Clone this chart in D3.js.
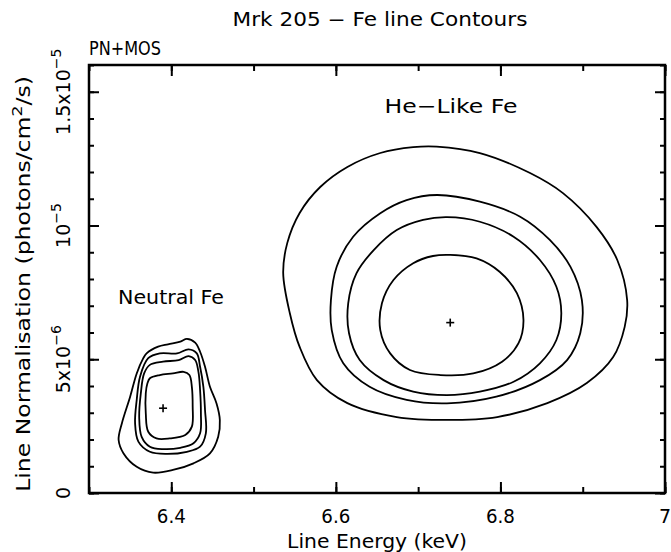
<!DOCTYPE html>
<html><head><meta charset="utf-8">
<script src="https://cdn.jsdelivr.net/npm/d3@7"></script>
<style>body{margin:0;background:#fff}svg{display:block}text{font-family:"DejaVu Sans",sans-serif;fill:#000}</style>
</head><body>
<svg id="c" width="671" height="552"></svg>
<script>
// ---- data (energy keV, normalisation in 1e-6 photons/cm2/s) ----
const xTicksMajor = [6.4, 6.6, 6.8, 7.0];
const xTicksMinor = [6.3,6.4,6.5,6.6,6.7,6.8,6.9,7.0];
const xTickLabels = ["6.4","6.6","6.8","7"];
const yTicksMajor = [0, 5, 10, 15];
const yTicksMinor = d3.range(0, 17, 1);
const yTickLabels = [["0",""],["5x10","−6"],["10","−5"],["1.5x10","−5"]];

const neutralBest = [6.390, 3.17];
const heBest = [6.739, 6.37];

const neutral1 = [[6.374,4.29],[6.386,4.41],[6.402,4.47],[6.415,4.53],[6.422,4.41],[6.425,3.97],[6.426,3.23],[6.425,2.48],[6.417,2.17],[6.398,2.04],[6.382,2.04],[6.372,2.29],[6.369,2.98],[6.369,3.73],[6.371,4.10]];
const neutral2 = [[6.374,4.79],[6.390,4.91],[6.409,4.97],[6.421,5.12],[6.429,4.97],[6.433,4.53],[6.435,3.85],[6.436,2.98],[6.435,2.23],[6.427,1.86],[6.411,1.69],[6.390,1.64],[6.374,1.73],[6.364,2.10],[6.361,2.85],[6.363,3.73],[6.367,4.47]];
const neutral3 = [[6.372,5.04],[6.386,5.22],[6.407,5.22],[6.421,5.37],[6.431,5.22],[6.435,4.72],[6.439,3.97],[6.441,3.10],[6.442,2.23],[6.435,1.73],[6.419,1.54],[6.394,1.46],[6.374,1.54],[6.360,1.92],[6.356,2.61],[6.358,3.48],[6.362,4.35]];
const neutral4 = [[6.370,5.22],[6.384,5.47],[6.396,5.56],[6.411,5.66],[6.419,5.76],[6.429,5.62],[6.435,5.28],[6.441,4.72],[6.447,3.97],[6.455,3.35],[6.459,2.73],[6.457,2.10],[6.447,1.48],[6.427,1.11],[6.402,0.86],[6.378,0.76],[6.358,0.98],[6.342,1.48],[6.336,1.98],[6.340,2.61],[6.350,3.60],[6.358,4.47],[6.366,5.04]];

const he1 = [[6.739,8.90],[6.771,8.77],[6.799,8.27],[6.820,7.47],[6.828,6.47],[6.822,5.60],[6.802,4.91],[6.767,4.47],[6.727,4.41],[6.690,4.60],[6.666,5.22],[6.654,6.09],[6.656,7.09],[6.670,7.96],[6.694,8.59],[6.718,8.86]];
const he2 = [[6.735,10.31],[6.775,10.14],[6.816,9.58],[6.848,8.71],[6.868,7.71],[6.874,6.72],[6.868,5.72],[6.848,4.85],[6.816,4.16],[6.775,3.79],[6.735,3.66],[6.694,3.79],[6.658,4.22],[6.629,4.97],[6.616,5.97],[6.615,7.09],[6.625,8.21],[6.646,9.08],[6.674,9.83],[6.706,10.21]];
const he3 = [[6.723,11.14],[6.775,10.89],[6.824,10.33],[6.860,9.46],[6.885,8.46],[6.899,7.21],[6.897,5.97],[6.881,4.97],[6.848,4.22],[6.795,3.60],[6.735,3.35],[6.686,3.48],[6.641,3.97],[6.609,4.85],[6.595,6.09],[6.594,7.21],[6.601,8.46],[6.621,9.58],[6.654,10.46],[6.686,10.95]];
const he4 = [[6.7225,12.95],[6.775,12.71],[6.836,11.96],[6.876,11.21],[6.917,9.94],[6.942,8.71],[6.954,7.21],[6.951,6.21],[6.937,5.08],[6.905,4.11],[6.857,3.36],[6.796,2.84],[6.735,2.73],[6.674,2.84],[6.614,3.36],[6.577,4.22],[6.556,5.46],[6.544,6.73],[6.536,8.22],[6.541,9.35],[6.556,10.47],[6.581,11.44],[6.614,12.19],[6.654,12.71],[6.694,12.93]];

const contours = [neutral1, neutral2, neutral3, neutral4, he1, he2, he3, he4];

// ---- layout ----
const L = 89, R = 665, T = 65, B = 493;
const x = d3.scaleLinear().domain([6.3, 7.0]).range([L, R]);
const y = d3.scaleLinear().domain([0, 16]).range([B, T]);
const svg = d3.select("#c");

// text stretched horizontally (along its own direction) to reach a target width
function label(px, py, rot, size, anchor, target, build) {
  const g = svg.append("g");
  const t = g.append("text").attr("font-size", size).attr("text-anchor", anchor);
  build(t);
  const w = t.node().getBBox().width;
  const sx = target ? target / w : 1;
  g.attr("transform", `translate(${px},${py}) rotate(${rot}) scale(${sx.toFixed(3)},1)`);
  return g;
}
const plain = s => t => t.text(s);

const line = d3.line().x(d => x(d[0])).y(d => y(d[1])).curve(d3.curveCatmullRomClosed.alpha(0.5));
svg.append("g").selectAll("path").data(contours).join("path")
  .attr("d", line).attr("fill", "none").attr("stroke", "#000").attr("stroke-width", 1.8);

// crosses
[neutralBest, heBest].forEach(p => {
  const g = svg.append("g").attr("stroke", "#000").attr("stroke-width", 1.6);
  g.append("line").attr("x1", x(p[0]) - 4).attr("x2", x(p[0]) + 4).attr("y1", y(p[1])).attr("y2", y(p[1]));
  g.append("line").attr("x1", x(p[0])).attr("x2", x(p[0])).attr("y1", y(p[1]) - 4).attr("y2", y(p[1]) + 4);
});

// axes ticks (all four sides)
function axisG(axis, tr) {
  const g = svg.append("g").attr("transform", tr).call(axis);
  g.select(".domain").remove();
  g.selectAll("text").remove();
  g.selectAll("line").attr("stroke", "#000").attr("stroke-width", 2);
  return g;
}
axisG(d3.axisBottom(x).tickValues(xTicksMinor).tickSize(-6), `translate(0,${B})`);
axisG(d3.axisBottom(x).tickValues(xTicksMajor).tickSize(-11), `translate(0,${B})`);
axisG(d3.axisTop(x).tickValues(xTicksMinor).tickSize(-6), `translate(0,${T})`);
axisG(d3.axisTop(x).tickValues(xTicksMajor).tickSize(-11), `translate(0,${T})`);
axisG(d3.axisLeft(y).tickValues(yTicksMinor).tickSize(-5), `translate(${L},0)`);
axisG(d3.axisLeft(y).tickValues(yTicksMajor).tickSize(-10), `translate(${L},0)`);
axisG(d3.axisRight(y).tickValues(yTicksMinor).tickSize(-5), `translate(${R},0)`);
axisG(d3.axisRight(y).tickValues(yTicksMajor).tickSize(-10), `translate(${R},0)`);

// frame
svg.append("rect").attr("x", L).attr("y", T).attr("width", R - L).attr("height", B - T)
  .attr("fill", "none").attr("stroke", "#000").attr("stroke-width", 2.5);

// x tick labels
xTicksMajor.forEach((v, i) => {
  label(x(v), 523, 0, 19, "middle", xTickLabels[i].length > 1 ? 29 : null, plain(xTickLabels[i]));
});
// y tick labels (rotated, with superscript exponent)
yTicksMajor.forEach((v, i) => {
  label(70, y(v), -90, 19, "middle", null, t => {
    t.append("tspan").text(yTickLabels[i][0]);
    t.append("tspan").attr("dy", -9).attr("font-size", 14).text(yTickLabels[i][1]);
  });
});

// titles and annotations
label(380, 26, 0, 19, "middle", 295, plain("Mrk 205 − Fe line Contours"));
label(89, 55, 0, 19, "start", 72, plain("PN+MOS"));
label(377, 548, 0, 19, "middle", 180, plain("Line Energy (keV)"));
label(30, 284, -90, 19, "middle", 416, t => {
  t.append("tspan").text("Line Normalisation (photons/cm");
  t.append("tspan").attr("dy", -8).attr("font-size", 14).text("2");
  t.append("tspan").attr("dy", 8).text("/s)");
});
label(451, 113, 0, 20, "middle", 133, plain("He−Like Fe"));
label(171, 304, 0, 20, "middle", 106, plain("Neutral Fe"));
</script>
</body></html>
